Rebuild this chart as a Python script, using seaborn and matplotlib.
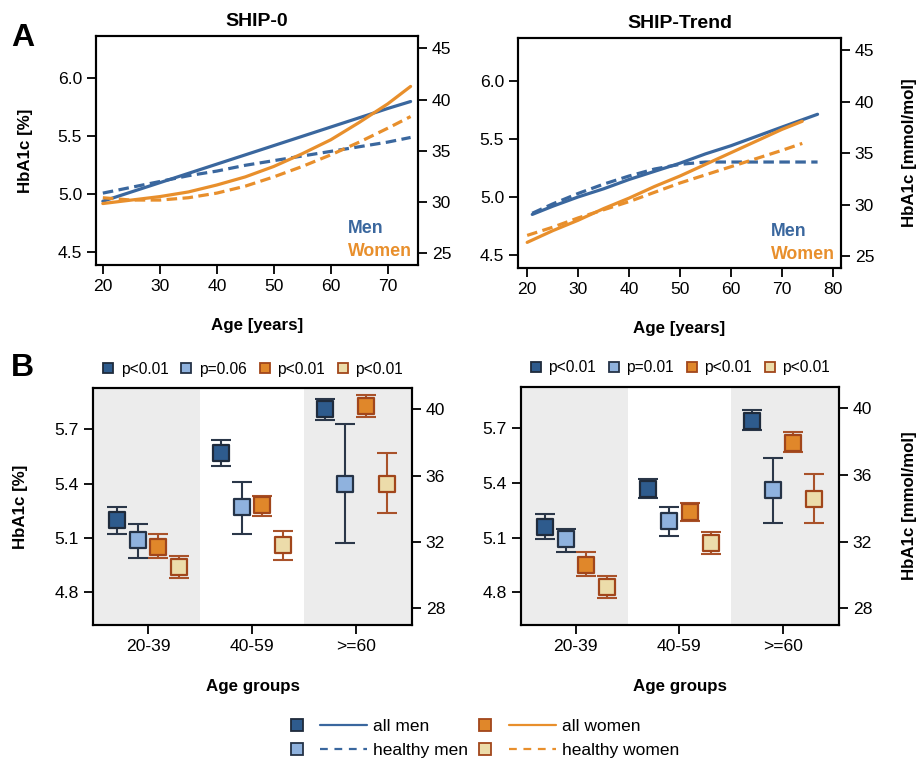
import numpy as np
import seaborn as sns
import matplotlib.pyplot as plt
from matplotlib.lines import Line2D
from matplotlib.legend_handler import HandlerTuple

sns.set_theme(style="ticks")
plt.rcParams['font.family'] = ['Liberation Sans', 'DejaVu Sans']
plt.rcParams.update({"text.color": "black", "axes.labelcolor": "black",
                     "xtick.color": "black", "ytick.color": "black"})

# ---------------- data: panel A (HbA1c % by age, regression curves)
age_ship0 = [20, 25, 30, 35, 40, 45, 50, 55, 60, 65, 70, 74]
ship0_all_men = [4.94, 5.02, 5.10, 5.18, 5.26, 5.34, 5.42, 5.50, 5.58, 5.66, 5.74, 5.80]
ship0_healthy_men = [5.01, 5.06, 5.11, 5.16, 5.20, 5.25, 5.29, 5.33, 5.37, 5.41, 5.45, 5.49]
ship0_all_women = [4.92, 4.95, 4.98, 5.02, 5.08, 5.15, 5.24, 5.35, 5.47, 5.62, 5.78, 5.93]
ship0_healthy_women = [4.97, 4.95, 4.95, 4.97, 5.01, 5.07, 5.15, 5.24, 5.34, 5.45, 5.57, 5.67]

age_trend_men = [21, 25, 30, 35, 40, 45, 50, 55, 60, 65, 70, 77]
age_trend_women = [20, 25, 30, 35, 40, 45, 50, 55, 60, 65, 70, 74]
trend_all_men = [4.85, 4.92, 5.00, 5.07, 5.15, 5.22, 5.29, 5.37, 5.44, 5.52, 5.60, 5.71]
trend_healthy_men = [4.86, 4.94, 5.03, 5.11, 5.18, 5.24, 5.28, 5.30, 5.30, 5.30, 5.30, 5.30]
trend_all_women = [4.61, 4.71, 4.80, 4.90, 4.99, 5.09, 5.18, 5.28, 5.38, 5.48, 5.58, 5.65]
trend_healthy_women = [4.67, 4.74, 4.82, 4.89, 4.96, 5.04, 5.12, 5.19, 5.26, 5.33, 5.40, 5.46]

# ---------------- data: panel B (mean and CI by age group)
age_groups = ["20-39", "40-59", ">=60"]

ship0_mean = {
    "all men": [5.20, 5.57, 5.81],
    "healthy men": [5.09, 5.27, 5.40],
    "all women": [5.05, 5.28, 5.83],
    "healthy women": [4.94, 5.06, 5.40],
}
ship0_lo = {
    "all men": [5.12, 5.50, 5.75],
    "healthy men": [4.99, 5.12, 5.07],
    "all women": [4.99, 5.22, 5.77],
    "healthy women": [4.88, 4.98, 5.24],
}
ship0_hi = {
    "all men": [5.27, 5.64, 5.87],
    "healthy men": [5.18, 5.41, 5.73],
    "all women": [5.12, 5.33, 5.89],
    "healthy women": [5.00, 5.14, 5.57],
}
trend_mean = {
    "all men": [5.16, 5.37, 5.74],
    "healthy men": [5.09, 5.19, 5.36],
    "all women": [4.95, 5.24, 5.62],
    "healthy women": [4.83, 5.07, 5.31],
}
trend_lo = {
    "all men": [5.09, 5.32, 5.69],
    "healthy men": [5.02, 5.11, 5.18],
    "all women": [4.89, 5.19, 5.57],
    "healthy women": [4.77, 5.01, 5.18],
}
trend_hi = {
    "all men": [5.23, 5.42, 5.80],
    "healthy men": [5.15, 5.27, 5.54],
    "all women": [5.02, 5.29, 5.68],
    "healthy women": [4.89, 5.13, 5.45],
}
ship0_p = ["p<0.01", "p=0.06", "p<0.01", "p<0.01"]
trend_p = ["p<0.01", "p=0.01", "p<0.01", "p<0.01"]

groups = ["all men", "healthy men", "all women", "healthy women"]

# ---------------- styles
BLUE = "#3a679e"
ORANGE = "#e88f2c"
face = {"all men": "#2e5b8d", "healthy men": "#8fb2de",
        "all women": "#e0872a", "healthy women": "#ecdcaa"}
edge = {"all men": "#1f2b3c", "healthy men": "#253347",
        "all women": "#a1461b", "healthy women": "#a1461b"}
bar_col = {"all men": "#2b3749", "healthy men": "#2b3749",
           "all women": "#a9522a", "healthy women": "#a9522a"}
offsets = [-0.3, -0.1, 0.1, 0.3]

FS = 12.6      # tick labels
LFS = 12.2     # axis labels
PFS = 11.2     # p-value legends
BFS = 12.5     # bottom legend
W, H = 921, 764
fig = plt.figure(figsize=(W / 100, H / 100), dpi=100)


def px_axes(x0, x1, y0, y1):
    return fig.add_axes([x0 / W, 1 - y1 / H, (x1 - x0) / W, (y1 - y0) / H])


def style_box(ax):
    for s in ax.spines.values():
        s.set_visible(True)
        s.set_linewidth(1.5)
        s.set_color("black")
    ax.tick_params(direction="out", length=6.5, width=1.3, labelsize=FS, colors="black")


# ---------------- panel A
def top_panel(ax, title, men_age, women_age, am, hm, aw, hw, xlim, xticks, left_label, right_label):
    sns.lineplot(x=men_age, y=am, ax=ax, color=BLUE, lw=2.3)
    sns.lineplot(x=men_age, y=hm, ax=ax, color=BLUE, lw=2.3, linestyle=(0, (3.3, 1.7)))
    sns.lineplot(x=women_age, y=aw, ax=ax, color=ORANGE, lw=2.3)
    sns.lineplot(x=women_age, y=hw, ax=ax, color=ORANGE, lw=2.3, linestyle=(0, (3.3, 1.7)))
    ax.set_xlim(*xlim)
    ax.set_xticks(xticks)
    ax.set_ylim(4.39, 6.365)
    ax.set_yticks([4.5, 5.0, 5.5, 6.0])
    ax.set_yticklabels(["4.5", "5.0", "5.5", "6.0"])
    ax.set_xlabel("Age [years]", fontsize=LFS, fontweight="bold")
    ax.xaxis.set_label_coords(0.5, -0.23)
    ax.set_title(title, fontsize=14, fontweight="bold", pad=7)
    style_box(ax)
    ax2 = ax.twinx()
    ax2.set_ylim(23.87, 46.2)
    ax2.set_yticks([25, 30, 35, 40, 45])
    style_box(ax2)
    if left_label:
        ax.set_ylabel("HbA1c [%]", fontsize=LFS, fontweight="bold")
        ax.yaxis.set_label_coords(-0.196, 0.5)
    else:
        ax.set_ylabel("")
    if right_label:
        ax2.set_ylabel("HbA1c [mmol/mol]", fontsize=LFS, fontweight="bold")
        ax2.yaxis.set_label_coords(1.189, 0.5)
    ax.text(0.783, 0.16, "Men", transform=ax.transAxes, color=BLUE, fontsize=12.8,
            fontweight="bold", va="center", ha="left")
    ax.text(0.783, 0.06, "Women", transform=ax.transAxes, color=ORANGE, fontsize=12.8,
            fontweight="bold", va="center", ha="left")


ax_tl = px_axes(96, 418, 36, 265)
top_panel(ax_tl, "SHIP-0", age_ship0, age_ship0, ship0_all_men, ship0_healthy_men,
          ship0_all_women, ship0_healthy_women, (18.8, 75.3), [20, 30, 40, 50, 60, 70], True, False)
ax_tr = px_axes(518, 841, 38, 268)
top_panel(ax_tr, "SHIP-Trend", age_trend_men, age_trend_women, trend_all_men, trend_healthy_men,
          trend_all_women, trend_healthy_women, (18.2, 81.6), [20, 30, 40, 50, 60, 70, 80], False, True)


# ---------------- panel B
def bottom_panel(ax, mean, lo, hi, pvals, left_label, right_label):
    ax.axvspan(-0.6, 0.5, color="#ececec", lw=0, zorder=0)
    ax.axvspan(1.5, 2.6, color="#ececec", lw=0, zorder=0)
    for g, off in zip(groups, offsets):
        xs = np.arange(len(age_groups)) + off
        m = np.array(mean[g])
        err = [m - np.array(lo[g]), np.array(hi[g]) - m]
        ax.errorbar(xs, m, yerr=err, fmt="none", ecolor=bar_col[g], elinewidth=1.5,
                    capsize=7, capthick=1.5, zorder=2)
        sns.scatterplot(x=xs, y=m, ax=ax, marker="s", s=125, color=face[g],
                        edgecolor=edge[g], linewidth=1.6, zorder=3)
    ax.set_xlim(-0.53, 2.54)
    ax.set_xticks(range(len(age_groups)))
    ax.set_xticklabels(age_groups)
    ax.set_ylim(4.62, 5.928)
    ax.set_yticks([4.8, 5.1, 5.4, 5.7])
    ax.set_xlabel("Age groups", fontsize=LFS, fontweight="bold")
    ax.xaxis.set_label_coords(0.5, -0.228)
    style_box(ax)
    ax2 = ax.twinx()
    ax2.set_ylim(26.99, 41.28)
    ax2.set_yticks([28, 32, 36, 40])
    style_box(ax2)
    if left_label:
        ax.set_ylabel("HbA1c [%]", fontsize=LFS, fontweight="bold")
        ax.yaxis.set_label_coords(-0.204, 0.5)
    if right_label:
        ax2.set_ylabel("HbA1c [mmol/mol]", fontsize=LFS, fontweight="bold")
        ax2.yaxis.set_label_coords(1.198, 0.5)
    handles = [Line2D([], [], marker="s", ls="none", ms=7.7, mfc=face[g], mec=edge[g], mew=1.3)
               for g in groups]
    ax.legend(handles, pvals, loc="center", bbox_to_anchor=(0.5, 1.08), ncol=4, frameon=False,
              fontsize=PFS, handlelength=0.8, handletextpad=0.4, columnspacing=0.75,
              borderaxespad=0)


ax_bl = px_axes(93, 412, 388, 625)
bottom_panel(ax_bl, ship0_mean, ship0_lo, ship0_hi, ship0_p, True, False)
ax_br = px_axes(521, 839, 387, 625)
bottom_panel(ax_br, trend_mean, trend_lo, trend_hi, trend_p, False, True)

# panel letters
fig.text(11 / W, 1 - 38 / H, "A", fontsize=23, fontweight="bold", va="center", ha="left")
fig.text(11 / W, 1 - 368 / H, "B", fontsize=23, fontweight="bold", va="center", ha="left")

# shared legend
leg_handles = []
for g in groups:
    col = BLUE if "men" in g and "women" not in g else ORANGE
    ls = "-" if g.startswith("all") else (0, (3.5, 3))
    sq = Line2D([], [], marker="s", ls="none", ms=8, mfc=face[g], mec=edge[g], mew=1.3)
    ln = Line2D([], [], color=col, lw=1.6, ls=ls)
    leg_handles.append((sq, ln))
fig.legend(leg_handles, groups, loc="center", bbox_to_anchor=(476 / W, 1 - 738.5 / H), ncol=2,
           frameon=False, fontsize=BFS, handlelength=5.4, handletextpad=0.35, columnspacing=-0.35,
           labelspacing=0.52, handler_map={tuple: HandlerTuple(ndivide=None, pad=0.0)})

fig.savefig("out.png", dpi=100)
